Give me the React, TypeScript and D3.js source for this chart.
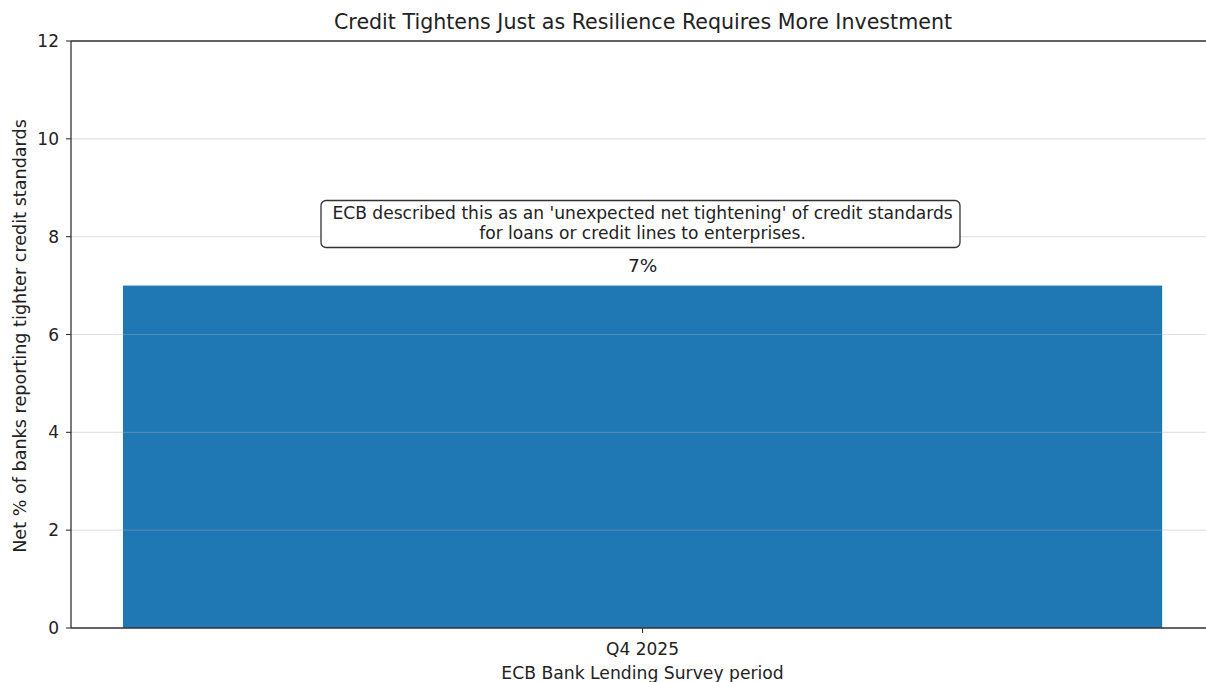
import React from "react";
import * as d3 from "d3";

const categories = ["Q4 2025"];
const values = [7];
const yTicks = [0, 2, 4, 6, 8, 10, 12];
const valueLabels = ["7%"];
const title = "Credit Tightens Just as Resilience Requires More Investment";
const yLabel = "Net % of banks reporting tighter credit standards";
const xLabel = "ECB Bank Lending Survey period";
const noteLines = [
  "ECB described this as an 'unexpected net tightening' of credit standards",
  "for loans or credit lines to enterprises.",
];

const W = 1206;
const H = 682;
const left = 71;
const top = 41;
const bottom = 628;
const unitPx = 1299;
const right = left + 0.88 * unitPx;
const font = "DejaVu Sans, sans-serif";

export default function App() {
  const x = d3.scaleLinear().domain([-0.44, 0.44]).range([left, right]);
  const y = d3.scaleLinear().domain([0, 12]).range([bottom, top]);
  const idx = (c: string) => categories.indexOf(c);

  return (
    <svg width={W} height={H} style={{ position: "absolute", left: 0, top: 0, background: "#fff" }}>
      <rect x={0} y={0} width={W} height={H} fill="#fff" />
      {categories.map((c, i) => (
        <rect
          key={c}
          x={x(idx(c) - 0.4)}
          width={x(idx(c) + 0.4) - x(idx(c) - 0.4)}
          y={y(values[i])}
          height={y(0) - y(values[i])}
          fill="#1f77b4"
        />
      ))}
      {yTicks.map((t) => (
        <line key={"g" + t} x1={left} x2={right} y1={y(t)} y2={y(t)} stroke="#b0b0b0" strokeOpacity={0.35} strokeWidth={1.2} />
      ))}
      {/* spines */}
      <line x1={left} x2={left} y1={top} y2={bottom} stroke="#333" strokeWidth={1.3} />
      <line x1={left} x2={right} y1={bottom} y2={bottom} stroke="#333" strokeWidth={1.3} />
      <line x1={left} x2={right} y1={top} y2={top} stroke="#333" strokeWidth={1.3} />
      <line x1={right} x2={right} y1={top} y2={bottom} stroke="#333" strokeWidth={1.3} />
      {yTicks.map((t) => (
        <g key={"t" + t}>
          <line x1={left - 5} x2={left} y1={y(t)} y2={y(t)} stroke="#333" strokeWidth={1.1} />
          <text x={left - 12} y={y(t)} dy="0.36em" textAnchor="end" fontFamily={font} fontSize={17} fill="#222">
            {t}
          </text>
        </g>
      ))}
      {categories.map((c) => (
        <g key={"x" + c}>
          <line x1={x(idx(c))} x2={x(idx(c))} y1={bottom} y2={bottom + 5} stroke="#333" strokeWidth={1.1} />
          <text x={x(idx(c))} y={649} dy="0.36em" textAnchor="middle" fontFamily={font} fontSize={17} fill="#222">
            {c}
          </text>
        </g>
      ))}
      {categories.map((c, i) => (
        <text key={"v" + c} x={x(idx(c))} y={y(values[i]) - 20} dy="0.36em" textAnchor="middle" fontFamily={font} fontSize={18.5} fill="#222">
          {valueLabels[i]}
        </text>
      ))}
      <text x={643} y={22} dy="0.36em" textAnchor="middle" fontFamily={font} fontSize={20.6} fill="#222">
        {title}
      </text>
      <text x={x(0)} y={673} dy="0.36em" textAnchor="middle" fontFamily={font} fontSize={17.2} fill="#222">
        {xLabel}
      </text>
      <text
        transform={`translate(20,336) rotate(-90)`}
        dy="0.36em"
        textAnchor="middle"
        fontFamily={font}
        fontSize={17.6}
        fill="#222"
      >
        {yLabel}
      </text>
      <rect x={321} y={200.5} width={639} height={47} rx={5} ry={5} fill="#fff" stroke="#333" strokeWidth={1.3} />
      {noteLines.map((l, i) => (
        <text key={i} x={x(0)} y={213 + i * 19.5} dy="0.36em" textAnchor="middle" fontFamily={font} fontSize={17.1} fill="#222">
          {l}
        </text>
      ))}
    </svg>
  );
}
